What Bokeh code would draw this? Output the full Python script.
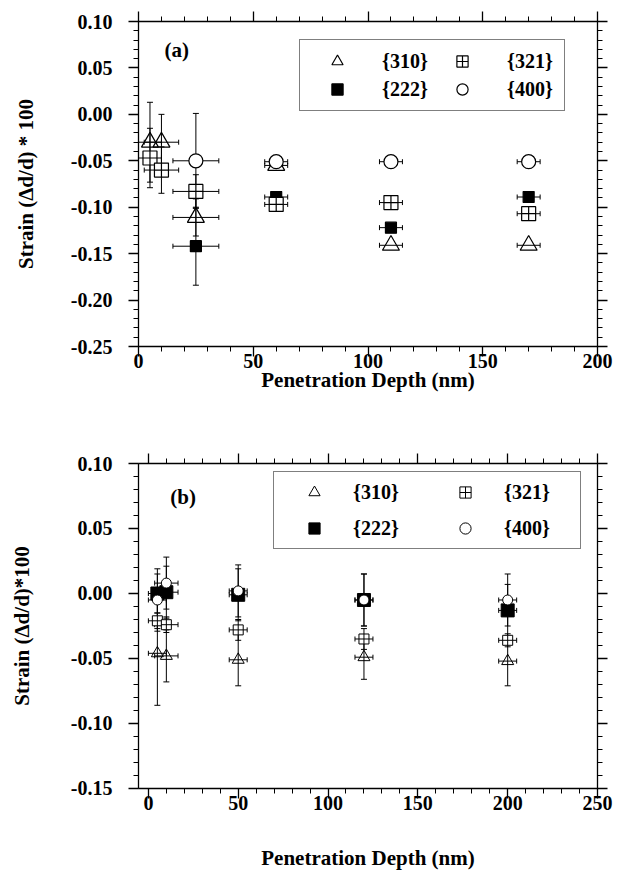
from bokeh.plotting import figure
from bokeh.models import (ColumnDataSource, Whisker, TeeHead, LinearAxis, SingleIntervalTicker,
                          NumeralTickFormatter, Legend, LegendItem, Label, Range1d)
from bokeh.layouts import column
from bokeh.embed import file_html
from bokeh.resources import INLINE

FONT = "Liberation Serif"

# ---------------- data : panel (a) ----------------
a_310_depth = [5, 10, 25, 60, 110, 170]
a_310_strain = [-0.030, -0.030, -0.111, -0.055, -0.141, -0.141]
a_310_strain_err = [0.043, 0.030, 0.020, 0.0, 0.0, 0.0]
a_310_depth_err = [5, 7.5, 10, 5, 5, 5]

a_222_depth = [25, 60, 110, 170]
a_222_strain = [-0.142, -0.089, -0.122, -0.089]
a_222_strain_err = [0.042, 0.0, 0.0, 0.0]
a_222_depth_err = [10, 5, 5, 5]

a_321_depth = [5, 10, 25, 60, 110, 170]
a_321_strain = [-0.047, -0.060, -0.083, -0.097, -0.095, -0.107]
a_321_strain_err = [0.032, 0.025, 0.018, 0.0, 0.0, 0.0]
a_321_depth_err = [5, 7.5, 10, 5, 5, 5]

a_400_depth = [25, 60, 110, 170]
a_400_strain = [-0.050, -0.051, -0.051, -0.051]
a_400_strain_err = [0.051, 0.0, 0.0, 0.0]
a_400_depth_err = [10, 5, 5, 5]

# ---------------- data : panel (b) ----------------
b_310_depth = [5, 10, 50, 120, 200]
b_310_strain = [-0.046, -0.048, -0.051, -0.049, -0.052]
b_310_strain_err = [0.040, 0.020, 0.020, 0.017, 0.019]
b_310_depth_err = [5, 6.5, 5, 5, 5]

b_222_depth = [5, 10, 50, 120, 200]
b_222_strain = [0.000, 0.001, -0.001, -0.005, -0.013]
b_222_strain_err = [0.015, 0.020, 0.020, 0.020, 0.020]
b_222_depth_err = [5, 6.5, 5, 5, 5]

b_321_depth = [5, 10, 50, 120, 200]
b_321_strain = [-0.021, -0.024, -0.028, -0.035, -0.036]
b_321_strain_err = [0.006, 0.006, 0.008, 0.008, 0.005]
b_321_depth_err = [5, 6.5, 5, 5, 5]

b_400_depth = [5, 10, 50, 120, 200]
b_400_strain = [-0.005, 0.008, 0.002, -0.005, -0.005]
b_400_strain_err = [0.024, 0.020, 0.020, 0.020, 0.020]
b_400_depth_err = [5, 6.5, 5, 5, 5]

labels = ["{310}", "{321}", "{222}", "{400}"]
x_label = "Penetration Depth (nm)"
y_label_a = "Strain (\u0394d/d) * 100"
y_label_b = "Strain (\u0394d/d)*100"


def add_series(p, depth, strain, s_err, d_err, marker, size, fill, lw):
    src = ColumnDataSource(dict(x=depth, y=strain))
    vx, vu, vl = [], [], []
    for d, s, e in zip(depth, strain, s_err):
        if e > 0:
            vx.append(d); vu.append(s + e); vl.append(s - e)
    hy, hu, hl = [], [], []
    for d, s, e in zip(depth, strain, d_err):
        if e > 0:
            hy.append(s); hu.append(d + e); hl.append(d - e)
    if vx:
        vs = ColumnDataSource(dict(base=vx, upper=vu, lower=vl))
        p.add_layout(Whisker(source=vs, base="base", upper="upper", lower="lower",
                             dimension="height", line_color="black", line_width=1,
                             upper_head=TeeHead(size=6, line_color="black", line_width=1),
                             lower_head=TeeHead(size=6, line_color="black", line_width=1),
                             level="underlay"))
    if hy:
        hs = ColumnDataSource(dict(base=hy, upper=hu, lower=hl))
        p.add_layout(Whisker(source=hs, base="base", upper="upper", lower="lower",
                             dimension="width", line_color="black", line_width=1,
                             upper_head=TeeHead(size=5, line_color="black", line_width=1),
                             lower_head=TeeHead(size=5, line_color="black", line_width=1),
                             level="underlay"))
    return p.scatter("x", "y", source=src, marker=marker, size=size,
                     fill_color=fill, line_color="black", line_width=lw)


def style_axis(ax, interval, fmt, show_labels):
    ax.ticker = SingleIntervalTicker(interval=interval, num_minor_ticks=5)
    if fmt is not None:
        ax.formatter = NumeralTickFormatter(format=fmt)
    ax.axis_line_color = "black"
    ax.axis_line_width = 1.3
    ax.major_tick_line_color = "black"
    ax.major_tick_line_width = 1.3
    ax.minor_tick_line_color = "black"
    ax.minor_tick_line_width = 1
    ax.major_tick_out = 10
    ax.major_tick_in = 0
    ax.minor_tick_out = 5
    ax.minor_tick_in = 0
    if show_labels:
        ax.major_label_text_font = FONT
        ax.major_label_text_font_style = "bold"
        ax.major_label_text_font_size = "20px"
        ax.major_label_text_color = "black"
        ax.axis_label_text_font = FONT
        ax.axis_label_text_font_style = "bold"
        ax.axis_label_text_font_size = "21px"
        ax.axis_label_text_color = "black"
    else:
        ax.major_label_text_font_size = "0px"
        ax.major_label_text_color = None
        ax.major_label_text_alpha = 0
        ax.major_label_standoff = 0
        ax.axis_label = None


def make_panel(xr, yr, width, height, borders, series, sizes, lw, ylab,
               ylab_standoff, xlab_standoff, xlabel_tick_standoff, tag, tag_pos,
               leg_loc, leg_geom):
    p = figure(width=width, height=height, x_range=Range1d(*xr), y_range=Range1d(*yr),
               output_backend="svg", toolbar_location=None,
               min_border_left=borders[0], min_border_right=borders[1],
               min_border_top=borders[2], min_border_bottom=borders[3])
    p.xgrid.visible = False
    p.ygrid.visible = False
    p.outline_line_color = None
    p.background_fill_color = "white"
    p.border_fill_color = "white"

    markers = {"{310}": ("triangle", None), "{222}": ("square", "black"),
               "{321}": ("square_cross", "white"), "{400}": ("circle", "white")}
    rend = {}
    for lab in ["{310}", "{222}", "{321}", "{400}"]:
        d = series[lab]
        m, f = markers[lab]
        rend[lab] = add_series(p, d[0], d[1], d[2], d[3], m, sizes[lab], f, lw)

    xa = p.xaxis[0]
    style_axis(xa, 50, None, True)
    xa.axis_label = x_label
    xa.axis_label_standoff = xlab_standoff
    xa.major_label_standoff = xlabel_tick_standoff
    ya = p.yaxis[0]
    style_axis(ya, 0.05, "0.00", True)
    ya.axis_label = ylab
    ya.axis_label_standoff = ylab_standoff
    ya.major_label_standoff = 16

    top = LinearAxis()
    style_axis(top, 50, None, False)
    p.add_layout(top, "above")
    right = LinearAxis()
    style_axis(right, 0.05, "0.00", False)
    p.add_layout(right, "right")

    p.add_layout(Label(x=tag_pos[0], y=tag_pos[1], text=tag, text_font=FONT,
                       text_font_style="bold", text_font_size="21px",
                       text_align="left", text_baseline="middle", text_color="black"))

    g, h, s, L, sp, P = leg_geom
    leg = Legend(items=[LegendItem(label=lab, renderers=[rend[lab]]) for lab in labels],
                 location=leg_loc, orientation="horizontal", ncols=2,
                 glyph_width=g, glyph_height=h, label_standoff=s, label_width=L,
                 label_height=h, spacing=sp, padding=P, margin=0,
                 label_text_font=FONT, label_text_font_style="bold",
                 label_text_font_size="20px", label_text_color="black",
                 border_line_color="black", border_line_width=1.3,
                 background_fill_color="white", background_fill_alpha=1.0)
    p.add_layout(leg)
    return p


series_a = {
    "{310}": (a_310_depth, a_310_strain, a_310_strain_err, a_310_depth_err),
    "{222}": (a_222_depth, a_222_strain, a_222_strain_err, a_222_depth_err),
    "{321}": (a_321_depth, a_321_strain, a_321_strain_err, a_321_depth_err),
    "{400}": (a_400_depth, a_400_strain, a_400_strain_err, a_400_depth_err),
}
series_b = {
    "{310}": (b_310_depth, b_310_strain, b_310_strain_err, b_310_depth_err),
    "{222}": (b_222_depth, b_222_strain, b_222_strain_err, b_222_depth_err),
    "{321}": (b_321_depth, b_321_strain, b_321_strain_err, b_321_depth_err),
    "{400}": (b_400_depth, b_400_strain, b_400_strain_err, b_400_depth_err),
}

pa = make_panel((0, 200), (-0.25, 0.10), 616, 410, (137, 19, 21, 64), series_a,
                {"{310}": 17, "{222}": 11, "{321}": 14, "{400}": 14}, 1.2, y_label_a,
                30, -3, -3, "(a)", (11.3, 0.069), (161, 235),
                (60, 28, 15, 50, 0, 7))
pb = make_panel((-5.5, 250), (-0.1500001, 0.10), 616, 464, (138, 18, 53, 86), series_b,
                {"{310}": 12, "{222}": 13, "{321}": 10, "{400}": 10}, 1.0, y_label_b,
                34, 33, -3, "(b)", (12.2, 0.074), (135, 239),
                (68, 28, 5, 70, 8, 6))

layout = column(pa, pb, spacing=0)
open("out.html", "w").write(file_html(layout, INLINE))
